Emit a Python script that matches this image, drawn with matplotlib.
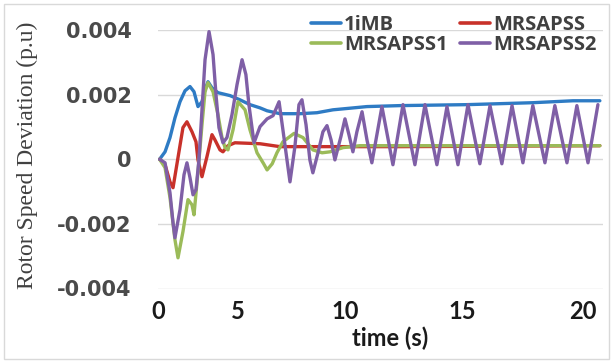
import numpy as np
import matplotlib
matplotlib.use("Agg")
import matplotlib.pyplot as plt
from matplotlib.patches import Rectangle

# ---------------- data (time in s, deviation in p.u.) ----------------
t_1imb = [0.1, 0.44, 0.75, 1.06, 1.375, 1.69, 2.0, 2.25, 2.5, 2.75, 2.94, 3.125,
          3.375, 3.75, 4.5, 5.09, 5.56, 6.03, 6.36, 6.96, 7.90, 8.69, 9.44,
          10.94, 12.35, 15.21, 17.93, 19.59, 20.70]
v_1imb = [0.0, 0.23, 0.67, 1.28, 1.78, 2.12, 2.25, 2.09, 1.63, 1.78, 2.15, 2.40,
          2.21, 2.06, 1.97, 1.84, 1.69, 1.59, 1.50, 1.41, 1.41, 1.44, 1.53,
          1.63, 1.66, 1.69, 1.75, 1.81, 1.81]

t_mrs = [0.1, 0.44, 0.75, 0.94, 1.25, 1.56, 1.81, 2.125, 2.375, 2.5, 2.75, 3.06,
         3.375, 3.56, 3.875, 4.06, 4.375, 4.81, 6.03, 6.96, 9.3, 12.35, 20.7]
v_mrs = [0.0, -0.17, -0.70, -0.88, 0.05, 0.98, 1.16, 0.85, 0.54, -0.02, -0.54, 0.08,
         0.76, 0.60, 0.29, 0.23, 0.42, 0.51, 0.48, 0.39, 0.39, 0.39, 0.42]

t_mrs1 = [0.1, 0.44, 0.75, 1.06, 1.25, 1.56, 1.875, 2.125, 2.25, 2.5, 2.75, 2.94,
          3.125, 3.44, 3.75, 4.0, 4.19, 4.375, 4.69, 5.0, 5.33, 5.56, 5.89, 6.2,
          6.36, 6.6, 6.82, 7.10, 7.62, 8.04, 8.50, 8.93, 9.30, 9.91, 10.64, 20.7]
v_mrs1 = [0.0, -0.26, -1.19, -2.49, -3.05, -2.24, -1.25, -1.41, -1.72, -0.39, 1.07, 2.09,
          2.37, 2.09, 1.38, 0.67, 0.36, 0.29, 0.91, 1.78, 1.53, 0.91, 0.20, -0.14,
          -0.33, -0.14, 0.20, 0.54, 0.80, 0.67, 0.29, 0.20, 0.23, 0.36, 0.42, 0.42]

t_mrs2 = [0.1, 0.44, 0.75, 0.94, 1.06, 1.375, 1.625, 1.81, 2.0, 2.19, 2.375, 2.56,
          2.75, 2.94, 3.19, 3.44, 3.625, 3.81, 4.06, 4.31, 4.625, 4.94, 5.19, 5.37,
          5.51, 5.75, 6.03, 6.36, 6.64, 6.92, 7.10, 7.29, 7.43, 7.66, 7.85, 7.99,
          8.18, 8.36, 8.50, 8.74, 8.97, 9.16, 9.35, 9.53, 9.81, 10.0, 10.17, 10.34,
          10.51, 10.73, 10.94, 11.15, 11.58, 12.05, 12.48, 12.99, 13.42, 13.93,
          14.36, 14.83, 15.25, 15.74, 16.16, 16.65, 17.07, 17.52, 17.93, 18.43,
          18.84, 19.34, 19.75, 20.21, 20.62]
v_mrs2 = [0.0, -0.11, -1.04, -1.97, -2.43, -1.56, -0.48, -0.11, -0.57, -1.10, -0.94, -0.02,
          1.53, 3.08, 3.95, 3.24, 2.0, 0.98, 0.51, 0.67, 1.38, 2.31, 3.08, 2.62,
          1.69, 0.51, 1.01, 1.25, 1.35, 1.78, 0.91, -0.02, -0.70, 0.39, 1.69, 1.84,
          1.07, -0.02, -0.42, 0.20, 0.85, 1.04, 0.60, -0.02, 0.70, 1.25, 0.76, 0.23,
          0.85, 1.47, 0.60, -0.11, 1.63, -0.17, 1.69, -0.17, 1.69, -0.17,
          1.63, -0.17, 1.69, -0.14, 1.66, -0.14, 1.66, -0.11, 1.66, -0.11,
          1.66, -0.11, 1.66, -0.11, 1.69]

series_names = ["1iMB", "MRSAPSS", "MRSAPSS1", "MRSAPSS2"]
series_colors = ["#2E7BC4", "#C8312A", "#9BBB59", "#7F5FA6"]
series_t = [t_1imb, t_mrs, t_mrs1, t_mrs2]
series_v = [v_1imb, v_mrs, v_mrs1, v_mrs2]
scale_v = 1e-3

x_ticks = [0, 5, 10, 15, 20]
y_ticks = [-0.004, -0.002, 0, 0.002, 0.004]
y_tick_labels = ["-0.004", "-0.002", "0", "0.002", "0.004"]

# non-uniform horizontal axis of the original chart (tick label spacing)
knot_t = [-5, 0, 5, 10, 15, 20, 25]
knot_u = [-80, 0, 80, 187, 304, 425, 546]

def fwd(t):
    return np.interp(t, knot_t, knot_u)

def inv(u):
    return np.interp(u, knot_u, knot_t)

# ---------------- figure ----------------
fig = plt.figure(figsize=(6.13, 3.62), dpi=100)
fig.patch.set_facecolor("white")
fig.add_artist(Rectangle((4 / 613, 3 / 362), 605 / 613, 355 / 362,
                         transform=fig.transFigure, fill=False,
                         edgecolor="#d9d9d9", linewidth=1.0))

ax = fig.add_axes([158 / 613, 1 - 288.5 / 362, 445 / 613, 258.5 / 362])
ax.set_xscale("function", functions=(fwd, inv))
ax.set_xlim(0, 20.83)
ax.set_ylim(-0.004, 0.004)

handles = []
for tt, vv, c, n in zip(series_t, series_v, series_colors, series_names):
    h, = ax.plot(tt, np.array(vv) * scale_v, color=c, lw=2.4, label=n,
                 solid_joinstyle="round", solid_capstyle="round")
    handles.append(h)

ax.set_yticks(y_ticks)
ax.set_yticklabels(y_tick_labels)
ax.set_xticks(x_ticks)
ax.set_xticklabels([str(x) for x in x_ticks])
ax.grid(axis="y", color="#d9d9d9", lw=1.0)
ax.set_axisbelow(True)
for s in ax.spines.values():
    s.set_visible(False)
ax.tick_params(axis="both", length=0)
ax.tick_params(axis="y", pad=19)
ax.tick_params(axis="x", pad=8)
for lab in ax.get_yticklabels():
    lab.set_fontfamily("DejaVu Sans")
    lab.set_fontweight("bold")
    lab.set_fontsize(15)
    lab.set_color("#4a4a4a")
for lab in ax.get_xticklabels():
    lab.set_fontfamily("Lato")
    lab.set_fontweight("bold")
    lab.set_fontsize(17)
    lab.set_color("#1a1a1a")

fig.text(390 / 613, 1 - 338 / 362, "time (s)", fontfamily="Lato",
         fontweight="bold", fontsize=17, color="#1a1a1a",
         ha="center", va="center")
fig.text(27 / 613, 1 - 155 / 362, "Rotor Speed Deviation (p.u)",
         fontfamily="Liberation Serif", fontsize=17, color="#404040",
         rotation=90, ha="center", va="center")

# legend: row 1 = 1iMB, MRSAPSS ; row 2 = MRSAPSS1, MRSAPSS2 (column-major fill)
order = [0, 2, 1, 3]
leg = fig.legend([handles[i] for i in order], [series_names[i] for i in order],
                 loc="upper left", bbox_to_anchor=(311 / 613, 1 - 15 / 362),
                 ncol=2, frameon=False, borderpad=0, borderaxespad=0,
                 handlelength=1.5, handletextpad=0.15, columnspacing=0.6,
                 labelspacing=0.0,
                 prop={"family": "Open Sans", "weight": "bold", "size": 14.5})
for txt in leg.get_texts():
    txt.set_color("#404040")
for line in leg.get_lines():
    line.set_linewidth(2.6)

fig.savefig("out.png", dpi=100)
